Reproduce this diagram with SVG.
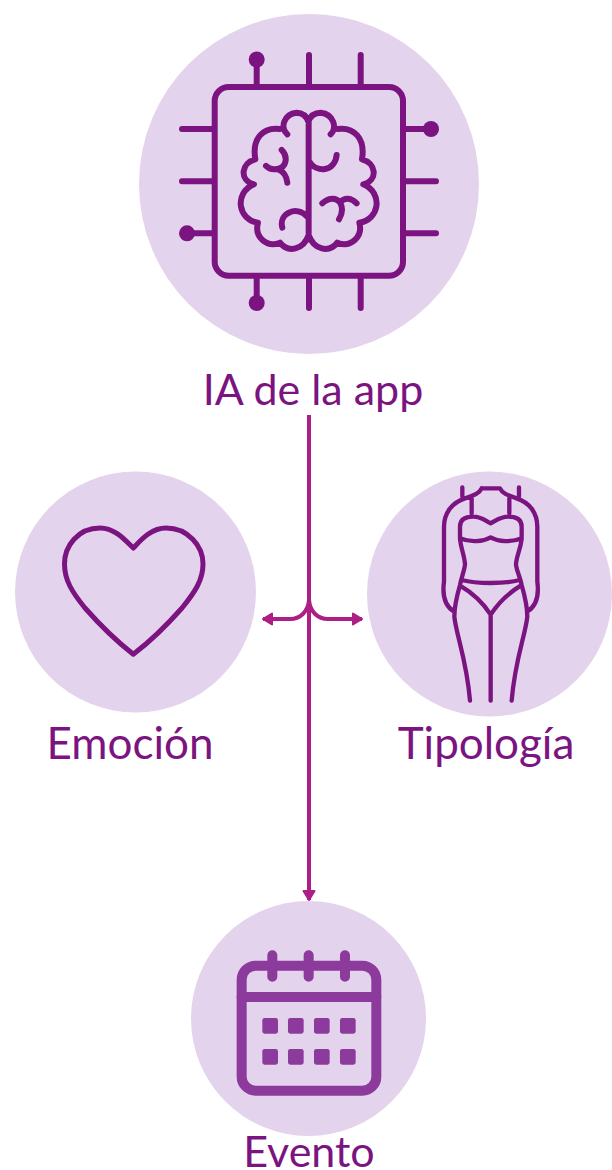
<svg xmlns="http://www.w3.org/2000/svg" width="612" height="1170" viewBox="0 0 612 1170">
<defs>
<marker id="ah" viewBox="0 0 12 16" refX="11" refY="8" markerWidth="12" markerHeight="16" markerUnits="userSpaceOnUse" orient="auto"><path d="M2 2.5L11 8L2 13.5Z" fill="#ad1f84" stroke="#ad1f84" stroke-width="2" stroke-linejoin="round"/></marker>
</defs>
<style>
.disc{fill:#e4d3ec}
.lbl{font-family:"Lato","Carlito","Liberation Sans",sans-serif;font-size:44px;fill:#7b1481;text-anchor:middle}
.sm{font-size:43px}
.ic{fill:none;stroke:#7b1481;stroke-linecap:round;stroke-linejoin:round}
.dot{fill:#7b1481}
.cal{fill:none;stroke:#8c3a9b;stroke-linecap:round;stroke-linejoin:round}
.cell{fill:#8c3a9b}
.conn{fill:none;stroke:#ad1f84;stroke-width:4}
</style>
<g id="node-ia">
<circle class="disc" cx="309" cy="184" r="170"/>
<rect class="ic" x="214.7" y="87" width="188.3" height="188.7" rx="14" stroke-width="6"/>
<path class="ic" stroke-width="6" d="M256.7 59V87M309 55V87M360.7 55V87M256.7 276V303M309 276V308M360.7 276V308M182 129H214M182 181.3H214M187 233.3H214M403 129H431M403 181.3H436M403 233.3H436"/>
<circle class="dot" cx="256.7" cy="59.5" r="8"/><circle class="dot" cx="256.7" cy="303" r="8"/><circle class="dot" cx="187" cy="233.3" r="8"/><circle class="dot" cx="431" cy="129" r="8"/>
<g transform="translate(170 40) scale(.3333)">
<path class="ic" stroke-width="18" d="M416 245V580M352 283C330 265 340 222 380 218C395 218 408 225 415 245C422 225 437 218 452 218C492 222 502 265 482 283M330 267C280 260 245 295 256 358C215 368 205 420 252 433C190 460 205 540 264 548C252 590 290 625 330 608C355 640 400 630 416 585C432 630 477 640 502 608C542 625 580 590 568 548C627 540 642 460 580 433C627 420 617 368 576 358C587 295 552 260 502 267M335 330C355 350 350 385 320 387C305 390 295 385 288 378M322 387C340 392 350 410 352 428M500 345C495 395 440 400 418 365M337 563C325 520 380 495 412 530M457 490C480 470 500 475 510 487C525 470 545 475 560 490M510 487C520 505 515 525 507 538"/>
</g>
<text class="lbl sm" x="313" y="405">IA de la app</text>
</g>
<g id="node-emocion">
<circle class="disc" cx="135.5" cy="592" r="120.5"/>
<path class="ic" stroke-width="5" d="M133.3 548C125 540 115 528 100 528C78 528 64.5 546 64.5 564C64.5 580 72 592 85 608C100 625 115 640 133.3 654.3C152 640 167 625 182 608C195 592 203 580 203 564C203 546 188 528 166 528C151 528 141 540 133.3 548Z"/>
<text class="lbl" x="130" y="759">Emoción</text>
</g>
<g id="node-tipologia">
<circle class="disc" cx="489.5" cy="594" r="122.5"/>
<g transform="translate(420 480) scale(.3333)">
<path class="ic" stroke-width="13" stroke-linecap="butt" d="M127 22V50M297 22V50M155 55V100M268 55V100M185 25C178 40 165 45 135 55C95 68 72 100 72 140V305C68 335 68 375 103 395M185 25H240C247 40 260 45 290 55C330 68 352 100 352 140V305C356 335 356 375 321 395M120 175V140C120 120 135 110 160 110C185 110 195 122 212 130C229 122 240 110 265 110C290 110 305 120 305 140V175M120 175C150 188 190 185 212 172C234 185 275 188 305 175M120 175C122 205 135 230 135 255C132 275 125 290 120 315C110 350 103 385 103 410C110 470 140 540 150 662M305 175C303 205 288 230 288 255C291 275 300 290 305 315C315 350 322 385 322 410C315 470 285 540 275 662M125 300C170 312 255 312 298 300M120 317C160 340 190 370 212 404C234 370 265 340 302 317M212 404V662"/>
</g>
<text class="lbl" x="486" y="759">Tipología</text>
</g>
<g id="node-evento">
<circle class="disc" cx="308.5" cy="1018.5" r="117.5"/>
<g transform="translate(225 880) scale(.3333)">
<rect class="cal" x="50" y="257" width="404" height="375" rx="42" stroke-width="30"/>
<path class="cal" stroke-width="30" d="M50 351H454M142 226V290M251 226V290M360 226V290"/>
<rect class="cell" x="112" y="414" width="47" height="47" rx="7"/><rect class="cell" x="189" y="414" width="47" height="47" rx="7"/><rect class="cell" x="267" y="414" width="47" height="47" rx="7"/><rect class="cell" x="345" y="414" width="47" height="47" rx="7"/>
<rect class="cell" x="112" y="507" width="47" height="47" rx="7"/><rect class="cell" x="189" y="507" width="47" height="47" rx="7"/><rect class="cell" x="267" y="507" width="47" height="47" rx="7"/><rect class="cell" x="345" y="507" width="47" height="47" rx="7"/>
</g>
<text class="lbl sm" x="309" y="1167">Evento</text>
</g>
<g id="connectors">
<path class="conn" marker-end="url(#ah)" d="M309 415V900"/>
<path class="conn" marker-end="url(#ah)" d="M309 600C308 612 300 619 290 619H263"/>
<path class="conn" marker-end="url(#ah)" d="M309 600C310 612 318 619 328 619H362"/>
</g>
</svg>
